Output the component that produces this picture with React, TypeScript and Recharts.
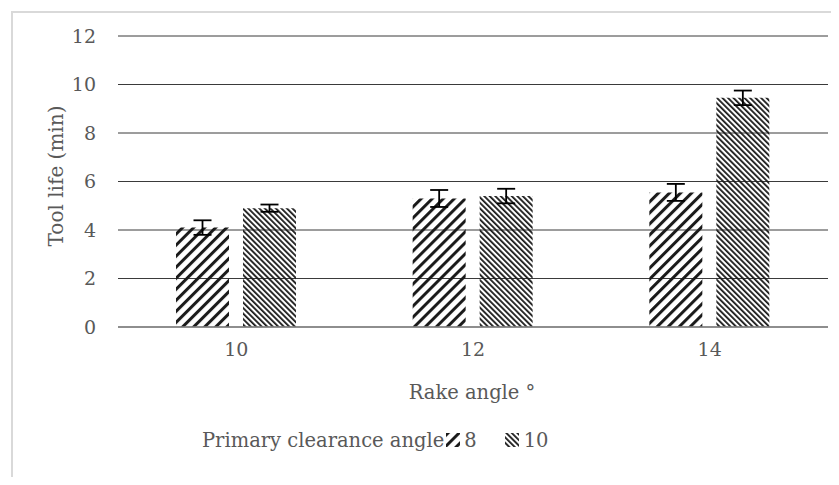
import { BarChart, Bar, XAxis, YAxis, CartesianGrid, ErrorBar, Legend } from "recharts";

const categories = ["10", "12", "14"];
const clearance8 = [4.1, 5.3, 5.55];
const clearance10 = [4.9, 5.4, 9.45];
const err8 = [0.3, 0.35, 0.35];
const err10 = [0.15, 0.3, 0.3];
const yTicks = [0, 2, 4, 6, 8, 10, 12];

const FONT = "'DejaVu Serif', serif";
const TEXT = "#595959";

const data = categories.map((c, i) => ({
  rake: c,
  a8: clearance8[i],
  a10: clearance10[i],
  e8: err8[i],
  e10: err10[i],
}));

const tick = { fill: TEXT, fontSize: 19, fontFamily: FONT };

function Swatch({ id }: { id: string }) {
  return (
    <svg width={14} height={14} style={{ display: "block" }}>
      <rect x={0} y={0} width={14} height={14} fill={`url(#${id})`} />
    </svg>
  );
}

function LegendBox() {
  return (
    <div style={{ display: "flex", alignItems: "center", height: 50, paddingLeft: 202, fontFamily: FONT, fontSize: 19.5, color: TEXT }}>
      <span>Primary clearance angle</span>
      <span style={{ marginLeft: 2 }}><Swatch id="hatch8" /></span>
      <span style={{ marginLeft: 4 }}>8</span>
      <span style={{ marginLeft: 28 }}><Swatch id="hatch10" /></span>
      <span style={{ marginLeft: 5 }}>10</span>
    </div>
  );
}

export default function App() {
  return (
    <div style={{ position: "relative", width: 839, height: 485, margin: -8, background: "#fff" }}>
      <div style={{ position: "absolute", left: 11, top: 11, right: 0, bottom: 0, borderLeft: "2px solid #d9d9d9", borderTop: "2px solid #d9d9d9" }} />
      <div style={{ position: "absolute", left: 0, top: 0 }}>
        <BarChart width={839} height={485} data={data} margin={{ top: 36, right: 11, left: 0, bottom: 20 }} barGap={14} barCategoryGap={58}>
          <defs>
            <pattern id="hatch8" patternUnits="userSpaceOnUse" width={7.8} height={7.8} patternTransform="rotate(45)">
              <rect x={0} y={0} width={3} height={7.8} fill="#1a1a1a" />
            </pattern>
            <pattern id="hatch10" patternUnits="userSpaceOnUse" width={3.9} height={3.9} patternTransform="rotate(-45)">
              <rect x={0} y={0} width={1.8} height={3.9} fill="#1a1a1a" />
            </pattern>
          </defs>
          <CartesianGrid vertical={false} stroke="#3a3a3a" strokeWidth={1} />
          <XAxis
            dataKey="rake"
            tick={tick}
            tickLine={false}
            axisLine={{ stroke: "#8a8a8a", strokeWidth: 1.5 }}
            tickMargin={10}
            height={88}
            label={{
              content: () => (
                <text x={472} y={392} textAnchor="middle" dominantBaseline="central" fill={TEXT} fontSize={19.5} fontFamily={FONT}>
                  Rake angle °
                </text>
              ),
            }}
          />
          <YAxis
            domain={[0, 12]}
            ticks={yTicks}
            tick={tick}
            tickLine={false}
            axisLine={false}
            tickMargin={16}
            width={118}
            label={{
              content: () => (
                <text x={56} y={176} transform="rotate(-90 56 176)" textAnchor="middle" dominantBaseline="central" fill={TEXT} fontSize={20} fontFamily={FONT}>
                  Tool life (min)
                </text>
              ),
            }}
          />
          <Legend verticalAlign="bottom" height={50} content={() => <LegendBox />} />
          <Bar dataKey="a8" name="8" fill="url(#hatch8)" isAnimationActive={false}>
            <ErrorBar dataKey="e8" width={9} stroke="#000" strokeWidth={1.8} direction="y" />
          </Bar>
          <Bar dataKey="a10" name="10" fill="url(#hatch10)" isAnimationActive={false}>
            <ErrorBar dataKey="e10" width={9} stroke="#000" strokeWidth={1.8} direction="y" />
          </Bar>
        </BarChart>
      </div>
    </div>
  );
}
